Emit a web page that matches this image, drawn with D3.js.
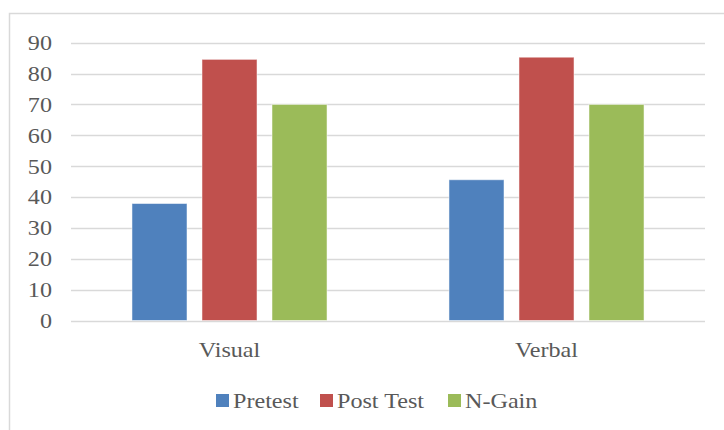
<!DOCTYPE html>
<html><head><meta charset="utf-8">
<script src="https://cdn.jsdelivr.net/npm/d3@7"></script>
<style>body{margin:0;background:#fff;}svg{display:block;}</style>
</head><body>
<svg id="c" width="724" height="430"></svg>
<script>
const categories = ["Visual", "Verbal"];
const seriesNames = ["Pretest", "Post Test", "N-Gain"];
const pretest = [37.9, 45.6];
const postTest = [84.6, 85.3];
const nGain = [70, 70];
const yTicks = [0, 10, 20, 30, 40, 50, 60, 70, 80, 90];
const colors = ["#4f81bd", "#c0504d", "#9bbb59"];

const values = [pretest, postTest, nGain];
const svg = d3.select("#c");
const font = "'Liberation Serif','Times New Roman',serif";
const sx = 1.15;

// outer frame
svg.append("path").attr("d", "M9.5,432V13.5H726").attr("fill", "none")
  .attr("stroke", "#d9d9d9").attr("stroke-width", 1.5);

const y = d3.scaleLinear().domain([0, 90]).range([320.5, 42.7]);
const x0 = d3.scaleBand().domain(categories).range([71, 705]).padding(0);
const x1 = d3.scaleBand().domain(seriesNames).range([0, x0.bandwidth()])
  .paddingInner(0.214).paddingOuter(0.871);

// gridlines
svg.append("g").selectAll("line").data(yTicks).join("line")
  .attr("x1", 71).attr("x2", 705)
  .attr("y1", d => Math.round(y(d)) + 0.5).attr("y2", d => Math.round(y(d)) + 0.5)
  .attr("stroke", "#d9d9d9").attr("stroke-width", 1.5);

// y labels
svg.append("g").selectAll("text").data(yTicks).join("text")
  .attr("transform", d => `translate(52,${y(d)}) scale(${sx},1)`)
  .attr("text-anchor", "end").attr("dy", "0.35em")
  .attr("font-family", font).attr("font-size", 21).attr("fill", "#595959")
  .text(d => d);

// bars
const g = svg.append("g");
categories.forEach((c, ci) => {
  seriesNames.forEach((s, si) => {
    const v = values[si][ci];
    g.append("rect")
      .attr("x", x0(c) + x1(s))
      .attr("y", y(v))
      .attr("width", x1.bandwidth())
      .attr("height", y(0) - y(v))
      .attr("fill", colors[si])
      .attr("stroke", "rgba(255,255,255,0.5)").attr("stroke-width", 1);
  });
});

// category labels
svg.append("g").selectAll("text").data(categories).join("text")
  .attr("transform", d => `translate(${x0(d) + x0.bandwidth() / 2},357) scale(${sx},1)`)
  .attr("text-anchor", "middle")
  .attr("font-family", font).attr("font-size", 21).attr("fill", "#595959")
  .text(d => d);

// legend
const legX = [216, 320, 448];
const leg = svg.append("g");
seriesNames.forEach((s, i) => {
  leg.append("rect").attr("x", legX[i]).attr("y", 394).attr("width", 13).attr("height", 13)
    .attr("fill", colors[i]);
  leg.append("text").attr("transform", `translate(${legX[i] + 17},408) scale(${sx},1)`)
    .attr("font-family", font).attr("font-size", 21).attr("fill", "#595959")
    .text(s);
});
</script>
</body></html>
